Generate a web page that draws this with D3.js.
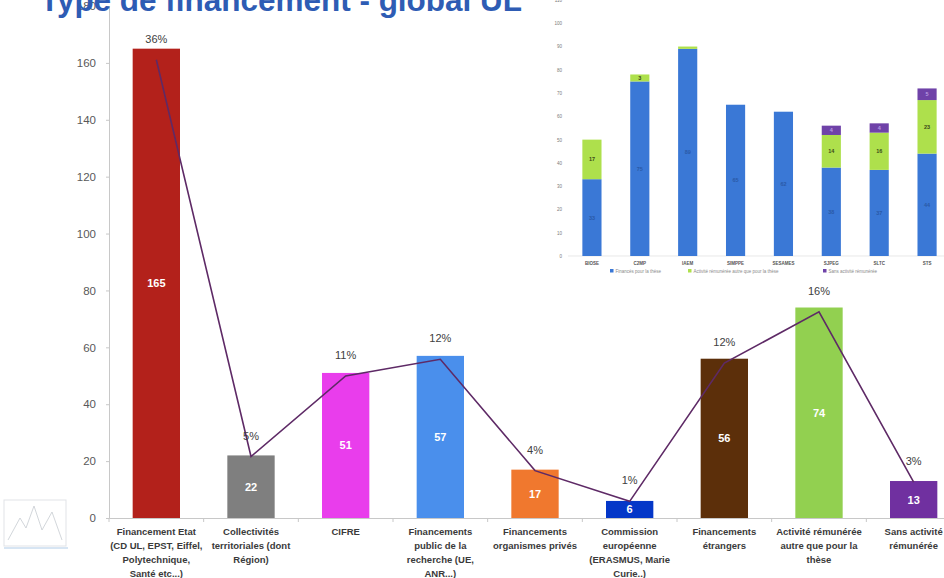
<!DOCTYPE html>
<html>
<head>
<meta charset="utf-8">
<script src="https://cdn.jsdelivr.net/npm/d3@7"></script>
<style>
  body { margin: 0; background: #fff; }
  svg { display: block; font-family: "Liberation Sans Narrow", "Liberation Sans", Arial, sans-serif; }
</style>
</head>
<body>
<div id="chart"></div>
<script>
// main chart data
const categories = [
  ["Financement Etat", "(CD UL, EPST, Eiffel,", "Polytechnique,", "Santé etc...)"],
  ["Collectivités", "territoriales (dont", "Région)"],
  ["CIFRE"],
  ["Financements", "public de la", "recherche (UE,", "ANR...)"],
  ["Financements", "organismes privés"],
  ["Commission", "européenne", "(ERASMUS, Marie", "Curie..)"],
  ["Financements", "étrangers"],
  ["Activité rémunérée", "autre que pour la", "thèse"],
  ["Sans activité", "rémunérée"]
];
const counts = [165, 22, 51, 57, 17, 6, 56, 74, 13];
const shares = [0.358, 0.048, 0.111, 0.124, 0.037, 0.013, 0.121, 0.161, 0.028];
const barColors = ["#B3211B", "#7F7F7F", "#E93DEC", "#4A8FEC", "#F0782E", "#0437C8", "#5C2F0A", "#92D050", "#7030A0"];
const yTicks = [0, 20, 40, 60, 80, 100, 120, 140, 160, 180];

// inset chart data
const insetGroups = ["BIOSE", "C2MP", "IAEM", "SIMPPE", "SESAMES", "SJPEG", "SLTC", "STS"];
const funded = [33, 75, 89, 65, 62, 38, 37, 44];
const otherJob = [17, 3, 1, 0, 0, 14, 16, 23];
const noJob = [0, 0, 0, 0, 0, 4, 4, 5];
const insetSeries = ["Financés pour la thèse", "Activité rémunérée autre que pour la thèse", "Sans activité rémunérée"];
const insetColors = ["#3A78D6", "#AEE04C", "#6F42A8"];
const insetTicks = [0, 10, 20, 30, 40, 50, 60, 70, 80, 90, 100, 110];

const width = 944, height = 578;

const svg = d3.select("#chart")
  .append("svg")
  .attr("width", width)
  .attr("height", height);

// ---------- main chart ----------
const x = d3.scaleBand()
  .domain(d3.range(categories.length))
  .range([109, 961])
  .paddingInner(0.5)
  .paddingOuter(0.25);

const y = d3.scaleLinear().domain([0, 180]).range([518, 6]);
const yShare = d3.scaleLinear().domain([0, 0.4]).range([518, 6]);

const g = svg.append("g");

// y axis
const yAxis = g.append("g")
  .attr("transform", "translate(109,0)")
  .call(d3.axisLeft(y).tickValues(yTicks).tickSize(3).tickPadding(10));
yAxis.select(".domain").attr("stroke", "#c8c8c8");
yAxis.selectAll(".tick line").attr("stroke", "#c8c8c8");
yAxis.selectAll("text")
  .attr("fill", "#595959")
  .style("font-size", "11.5px")
  .style("font-family", "Liberation Sans, Arial, sans-serif");

// x axis line with boundary ticks
const xAxis = g.append("g")
  .attr("transform", "translate(0,518)")
  .call(d3.axisBottom(x).tickSize(0).tickFormat(""));
xAxis.select(".domain").attr("stroke", "#c8c8c8");
g.selectAll(".bound")
  .data(d3.range(categories.length + 1))
  .enter()
  .append("line")
  .attr("x1", d => 109 + d * x.step())
  .attr("x2", d => 109 + d * x.step())
  .attr("y1", 518)
  .attr("y2", 522)
  .attr("stroke", "#c8c8c8");

// bars
g.selectAll(".bar")
  .data(counts)
  .enter()
  .append("rect")
  .attr("x", (d, i) => x(i))
  .attr("y", d => y(d))
  .attr("width", x.bandwidth())
  .attr("height", d => y(0) - y(d))
  .attr("fill", (d, i) => barColors[i]);

// value labels in bars
g.selectAll(".val")
  .data(counts)
  .enter()
  .append("text")
  .attr("x", (d, i) => x(i) + x.bandwidth() / 2)
  .attr("y", d => (y(d) + y(0)) / 2 + 4)
  .attr("text-anchor", "middle")
  .attr("fill", "#fff")
  .style("font-size", "11px")
  .style("font-weight", "bold")
  .text(d => d);

// share line
const line = d3.line()
  .x((d, i) => x(i) + x.bandwidth() / 2)
  .y(d => yShare(d));

g.append("path")
  .datum(shares)
  .attr("d", line)
  .attr("fill", "none")
  .attr("stroke", "#5E2A66")
  .attr("stroke-width", 1.6);

g.selectAll(".pct")
  .data(shares)
  .enter()
  .append("text")
  .attr("x", (d, i) => x(i) + x.bandwidth() / 2)
  .attr("y", d => yShare(d) - 17)
  .attr("text-anchor", "middle")
  .attr("fill", "#404040")
  .style("font-size", "11px")
  .text(d => Math.round(d * 100) + "%");

// category labels
const catLabels = g.selectAll(".cat")
  .data(categories)
  .enter()
  .append("text")
  .attr("text-anchor", "middle")
  .attr("fill", "#3a3a3a")
  .style("font-size", "9.5px")
  .style("font-weight", "bold");

catLabels.selectAll("tspan")
  .data((d, i) => d.map(t => ({ t, i })))
  .enter()
  .append("tspan")
  .attr("x", d => x(d.i) + x.bandwidth() / 2)
  .attr("y", (d, j) => 535 + j * 14)
  .text(d => d.t);

// logo placeholder (faint sketch bottom-left)
const logo = svg.append("g").attr("opacity", 0.55);
logo.append("rect").attr("x", 4).attr("y", 500).attr("width", 62).attr("height", 46)
  .attr("fill", "none").attr("stroke", "#c9ced6");
logo.append("path").attr("d", "M8 540 L20 518 L26 528 L34 506 L42 530 L52 512 L62 540")
  .attr("fill", "none").attr("stroke", "#9aa3ad").attr("stroke-width", 0.8);
logo.append("line").attr("x1", 4).attr("x2", 68).attr("y1", 548).attr("y2", 548)
  .attr("stroke", "#b8d0ea").attr("stroke-width", 2);

// ---------- inset chart ----------
const ins = svg.append("g");
ins.append("rect").attr("x", 548).attr("y", 0).attr("width", 396).attr("height", 276).attr("fill", "#fff");

const xi = d3.scaleBand()
  .domain(insetGroups)
  .range([568, 951])
  .paddingInner(0.6)
  .paddingOuter(0.3);
const yi = d3.scaleLinear().domain([0, 110]).range([256, 0]);

const insetRows = insetGroups.map((gname, i) => ({
  group: gname, a: funded[i], b: otherJob[i], c: noJob[i]
}));
const stack = d3.stack().keys(["a", "b", "c"]);
const layers = stack(insetRows);

const yiAxis = ins.append("g")
  .attr("transform", "translate(568,0)")
  .call(d3.axisLeft(yi).tickValues(insetTicks).tickSize(0).tickPadding(6));
yiAxis.select(".domain").remove();
yiAxis.selectAll("text").attr("fill", "#7a7a7a").style("font-size", "4.5px");

ins.append("line").attr("x1", 568).attr("x2", 951).attr("y1", 256).attr("y2", 256)
  .attr("stroke", "#d9d9d9").attr("stroke-width", 0.6);

const layerG = ins.selectAll(".layer")
  .data(layers)
  .enter()
  .append("g")
  .attr("fill", (d, i) => insetColors[i]);

layerG.selectAll("rect")
  .data(d => d)
  .enter()
  .append("rect")
  .attr("x", d => xi(d.data.group))
  .attr("y", d => yi(d[1]))
  .attr("width", xi.bandwidth())
  .attr("height", d => yi(d[0]) - yi(d[1]));

const segLabelColors = ["#2a5aa8", "#3b4a1a", "#b89ae0"];
layers.forEach((layer, li) => {
  ins.selectAll(".seg" + li)
    .data(layer.filter(d => d[1] - d[0] >= 3))
    .enter()
    .append("text")
    .attr("x", d => xi(d.data.group) + xi.bandwidth() / 2)
    .attr("y", d => (yi(d[0]) + yi(d[1])) / 2 + 2)
    .attr("text-anchor", "middle")
    .attr("fill", segLabelColors[li])
    .style("font-size", "5.5px")
    .style("font-weight", "bold")
    .text(d => d[1] - d[0]);
});

ins.selectAll(".igl")
  .data(insetGroups)
  .enter()
  .append("text")
  .attr("x", d => xi(d) + xi.bandwidth() / 2)
  .attr("y", 265)
  .attr("text-anchor", "middle")
  .attr("fill", "#555")
  .style("font-size", "4.5px")
  .style("font-weight", "bold")
  .text(d => d);

// inset legend
const legX = [610, 688, 823];
const leg = ins.selectAll(".leg")
  .data(insetSeries)
  .enter()
  .append("g")
  .attr("transform", (d, i) => `translate(${legX[i]},271)`);
leg.append("rect").attr("x", 0).attr("y", -2).attr("width", 3.5).attr("height", 3.5)
  .attr("fill", (d, i) => insetColors[i]);
leg.append("text").attr("x", 5.5).attr("y", 1.5)
  .attr("fill", "#8a8a8a").style("font-size", "4.5px")
  .text(d => d);

// ---------- title (cropped at top) ----------
svg.append("text")
  .attr("x", 40)
  .attr("y", 11)
  .attr("fill", "#2E5CB4")
  .style("font-family", "Liberation Sans, Arial, sans-serif")
  .style("font-size", "31px")
  .style("font-weight", "bold")
  .attr("textLength", 482)
  .attr("lengthAdjust", "spacingAndGlyphs")
  .text("Type de financement - global UL");
</script>
</body>
</html>
